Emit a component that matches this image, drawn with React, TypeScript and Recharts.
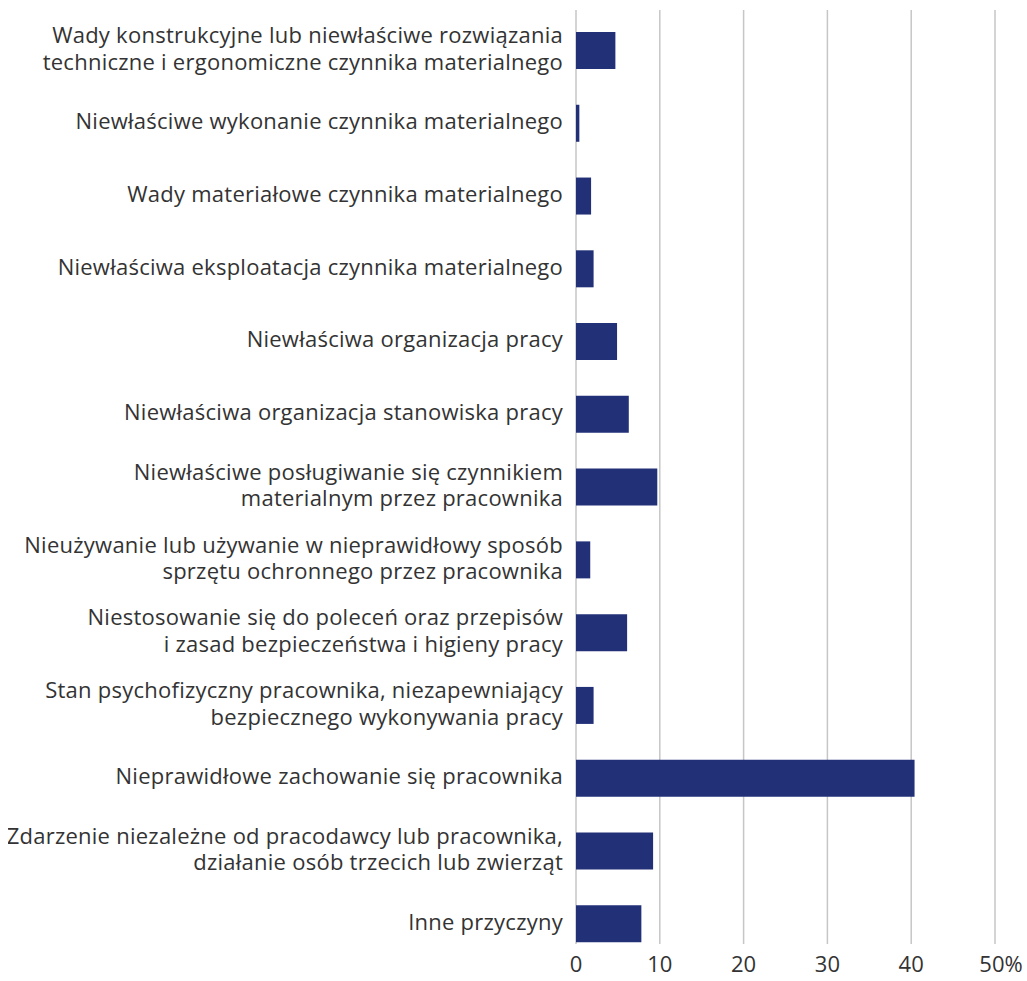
import { BarChart, Bar, XAxis, YAxis, CartesianGrid } from "recharts";

const causes = [
  "Wady konstrukcyjne lub niewłaściwe rozwiązania\ntechniczne i ergonomiczne czynnika materialnego",
  "Niewłaściwe wykonanie czynnika materialnego",
  "Wady materiałowe czynnika materialnego",
  "Niewłaściwa eksploatacja czynnika materialnego",
  "Niewłaściwa organizacja pracy",
  "Niewłaściwa organizacja stanowiska pracy",
  "Niewłaściwe posługiwanie się czynnikiem\nmaterialnym przez pracownika",
  "Nieużywanie lub używanie w nieprawidłowy sposób\nsprzętu ochronnego przez pracownika",
  "Niestosowanie się do poleceń oraz przepisów\ni zasad bezpieczeństwa i higieny pracy",
  "Stan psychofizyczny pracownika, niezapewniający\nbezpiecznego wykonywania pracy",
  "Nieprawidłowe zachowanie się pracownika",
  "Zdarzenie niezależne od pracodawcy lub pracownika,\ndziałanie osób trzecich lub zwierząt",
  "Inne przyczyny",
];

const shares = [4.7, 0.4, 1.8, 2.1, 4.9, 6.3, 9.7, 1.7, 6.1, 2.1, 40.4, 9.2, 7.8];

const xTicks = [0, 10, 20, 30, 40, 50];

const data = causes.map((cause, i) => ({ cause, value: shares[i] }));

const FONT = "'Open Sans', Roboto, sans-serif";
const TEXT = "#333333";

function CauseTick({ x, y, payload }: any) {
  const lines = String(payload.value).split("\n");
  const lh = 26.5;
  const start = y - 3 - ((lines.length - 1) * lh) / 2;
  return (
    <text
      x={x}
      y={start}
      textAnchor="end"
      fill={TEXT}
      fontSize={22}
      letterSpacing={0.25}
      fontFamily={FONT}
      dominantBaseline="central"
    >
      {lines.map((line, i) => (
        <tspan key={i} x={x} y={start + i * lh}>
          {line}
        </tspan>
      ))}
    </text>
  );
}

function PercentTick({ x, y, payload }: any) {
  const last = payload.value === 50;
  return (
    <text
      x={x + (last ? 6 : 0)}
      y={y}
      dy="0.71em"
      textAnchor="middle"
      fill={TEXT}
      fontSize={22}
      fontFamily={FONT}
    >
      {last ? `${payload.value}%` : payload.value}
    </text>
  );
}

export default function App() {
  return (
    <div style={{ position: "absolute", left: 8, top: 0 }}>
      <BarChart
        width={1019}
        height={981}
        data={data}
        layout="vertical"
        margin={{ top: 10, right: 32, left: 0, bottom: 0 }}
        barCategoryGap={18}
      >
        <CartesianGrid
          horizontal={false}
          stroke="#c6c6c6"
          strokeWidth={1.5}
          verticalValues={xTicks}
        />
        <XAxis
          type="number"
          domain={[0, 50]}
          ticks={xTicks}
          axisLine={false}
          tickLine={false}
          tickSize={0}
          tickMargin={12}
          height={37}
          tick={<PercentTick />}
        />
        <YAxis
          type="category"
          dataKey="cause"
          width={568}
          axisLine={false}
          tickLine={false}
          tickSize={0}
          tickMargin={13}
          interval={0}
          padding={{ top: 4, bottom: -16 }}
          tick={<CauseTick />}
        />
        <Bar dataKey="value" fill="#223078" isAnimationActive={false} />
      </BarChart>
    </div>
  );
}
